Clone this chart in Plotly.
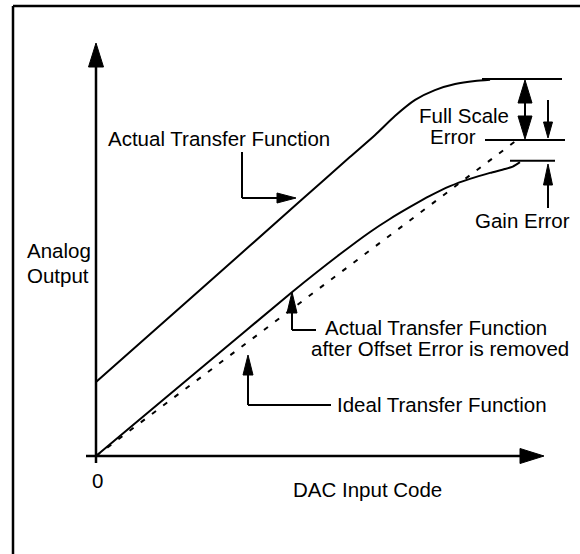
import plotly.graph_objects as go

# DAC transfer functions, normalised so the ideal full-scale point is (1, 1)
ideal_code = [0.0, 1.0]
ideal_out = [0.0, 1.0]

# actual transfer function (with offset and gain error)
actual_code = [0.0, 0.247, 0.485, 0.603, 0.663, 0.710, 0.758, 0.805, 0.853, 0.900, 0.936]
actual_out = [0.234, 0.525, 0.807, 0.946, 1.016, 1.076, 1.127, 1.158, 1.177, 1.187, 1.191]

# actual transfer function after the offset error is removed
corrected_code = [0.0, 0.247, 0.466, 0.580, 0.651, 0.698, 0.746, 0.793, 0.841, 0.888, 0.936, 0.971, 0.990, 1.007]
corrected_out = [0.0, 0.275, 0.519, 0.639, 0.709, 0.750, 0.788, 0.823, 0.854, 0.877, 0.896, 0.908, 0.916, 0.930]

# levels of the error markers (output units)
full_scale_top = 1.193
full_scale_ideal = 1.0
gain_level = 0.934

# figure a little wider/taller than the window so its edges fall outside the view
W, H = 590, 560
X0, Y0 = 96, 456    # origin in pixels
SX, SY = 421, 316   # pixels per full-scale unit


def pt(px, py):
    return (px - X0) / SX, (Y0 - py) / SY


def line(p1, p2, width=2):
    (x1, y1), (x2, y2) = pt(*p1), pt(*p2)
    return dict(type="line", x0=x1, y0=y1, x1=x2, y1=y2,
                line=dict(color="black", width=width))


def head(tip, base, half):
    # filled triangle from tip to base (pixels)
    tx, ty = tip
    bx, by = base
    if tx == bx:
        pts = [tip, (bx - half, by), (bx + half, by)]
    else:
        pts = [tip, (bx, by - half), (bx, by + half)]
    d = "M " + " L ".join("%f,%f" % pt(*p) for p in pts) + " Z"
    return dict(type="path", path=d, fillcolor="black", line=dict(color="black", width=1))


def hline_at(level, px1, px2):
    return dict(type="line", x0=(px1 - X0) / SX, x1=(px2 - X0) / SX, y0=level, y1=level,
                line=dict(color="black", width=2))


fig = go.Figure()
fig.add_trace(go.Scatter(x=ideal_code, y=ideal_out, mode="lines",
                         line=dict(color="black", width=2, dash="5px,9px")))
fig.add_trace(go.Scatter(x=actual_code, y=actual_out, mode="lines",
                         line=dict(color="black", width=2, shape="spline", smoothing=0.6)))
fig.add_trace(go.Scatter(x=corrected_code, y=corrected_out, mode="lines",
                         line=dict(color="black", width=2, shape="spline", smoothing=0.6)))

shapes = [
    # frame (right and bottom edges fall outside the picture)
    line((13, 6), (W + 10, 6), 2.5),
    line((13, 6), (13, H + 10), 2.5),
    # axes
    line((96, 463), (96, 66), 2.5),
    head((96, 43), (96, 67), 7.5),
    line((86, 456), (521, 456), 2.5),
    head((544, 456), (520, 456), 7.5),
    # error reference lines
    hline_at(full_scale_top, 482, 562),
    hline_at(full_scale_ideal, 485, 565),
    hline_at(gain_level, 510, 555),
    # full scale error double arrow
    line((525, 102), (525, 117), 2),
    head((525, 80), (525, 103), 7),
    head((525, 139), (525, 116), 7),
    # gain error arrows
    line((548, 100), (548, 123), 2),
    head((548, 138), (548, 122), 4.5),
    line((548, 208), (548, 184), 2),
    head((548, 164), (548, 185), 4.5),
    # leader: actual transfer function
    line((242, 152), (242, 198), 2),
    line((242, 198), (278, 198), 2),
    head((296, 198), (277, 198), 5),
    # leader: after offset removed
    line((292, 312), (292, 330), 2),
    line((292, 330), (316, 330), 2),
    head((292, 292), (292, 313), 5),
    # leader: ideal
    line((248, 374), (248, 405), 2),
    line((248, 405), (331, 405), 2),
    head((248, 355), (248, 375), 5),
]

font = dict(family="Liberation Sans, Arial, sans-serif", size=20.5, color="black")
texts = [
    ("Actual Transfer Function", 108, 138, "left"),
    ("Analog", 27, 250, "left"),
    ("Output", 27, 275, "left"),
    ("Full Scale", 419, 115, "left"),
    ("Error", 430, 136, "left"),
    ("Gain Error", 475, 220, "left"),
    ("Actual Transfer Function", 325, 327, "left"),
    ("after Offset Error is removed", 311, 348, "left"),
    ("Ideal Transfer Function", 337, 404, "left"),
    ("0", 97, 480, "center"),
    ("DAC Input Code", 293, 489, "left"),
]
annotations = []
for t, px, py, anchor in texts:
    x, y = pt(px, py)
    annotations.append(dict(x=x, y=y, text=t, showarrow=False, xanchor=anchor,
                            yanchor="middle", font=font, xshift=-2 if anchor == "left" else 0))

x_lo, y_hi = pt(0, 0)
x_hi, y_lo = pt(W, H)
fig.update_layout(
    width=W, height=H, autosize=False,
    margin=dict(l=0, r=0, t=0, b=0),
    paper_bgcolor="white", plot_bgcolor="white",
    showlegend=False,
    xaxis=dict(range=[x_lo, x_hi], visible=False, fixedrange=True),
    yaxis=dict(range=[y_lo, y_hi], visible=False, fixedrange=True),
    shapes=shapes,
    annotations=annotations,
)

fig.write_html("out.html", config={"displayModeBar": False, "staticPlot": True},
               post_script="document.body.style.margin='0';"
                           "document.body.style.overflow='hidden';"
                           "document.documentElement.style.overflow='hidden';")
